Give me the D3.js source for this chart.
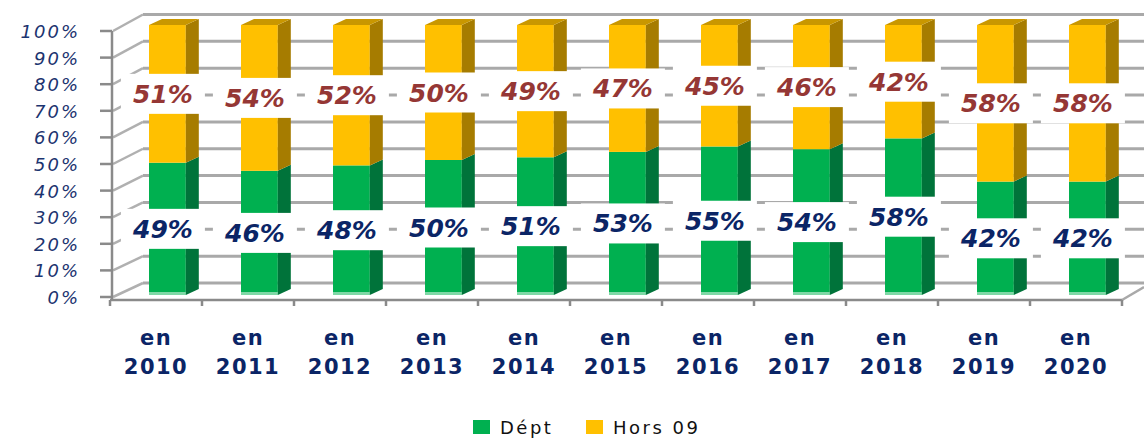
<!DOCTYPE html>
<html>
<head>
<meta charset="utf-8">
<script src="https://cdn.jsdelivr.net/npm/d3@7"></script>
<style>
  body { margin: 0; background: #fff; }
  text { font-family: "DejaVu Sans", Verdana, sans-serif; }
</style>
</head>
<body>
<svg id="chart" width="1144" height="439"></svg>
<script>
var years = ["2010","2011","2012","2013","2014","2015","2016","2017","2018","2019","2020"];
var dept = [49, 46, 48, 50, 51, 53, 55, 54, 58, 42, 42];
var hors = [51, 54, 52, 50, 49, 47, 45, 46, 42, 58, 58];
var yTicks = [0, 10, 20, 30, 40, 50, 60, 70, 80, 90, 100];

var svg = d3.select("#chart");

// front plane (axis), back wall and bar face scales
var yFront = d3.scaleLinear().domain([0, 100]).range([297, 31]);
var yBack = d3.scaleLinear().domain([0, 100]).range([283, 14.5]);
var yBar = d3.scaleLinear().domain([0, 100]).range([295, 25]);
var xScale = d3.scaleBand().domain(years).range([110, 1122]);
var bw = xScale.bandwidth();
var barDx = 13, barDy = -6;

function barLeft(c) { return xScale(c) + bw * 0.424; }
var barW = bw * 0.40;

// back wall gridlines + left wall diagonals
var grid = svg.append("g");
yTicks.forEach(function(v) {
    grid.append("line")
        .attr("x1", 143).attr("x2", 1144)
        .attr("y1", yBack(v)).attr("y2", yBack(v))
        .attr("stroke", "#a9a9a9").attr("stroke-width", 3);
    grid.append("line")
        .attr("x1", 113).attr("y1", yFront(v))
        .attr("x2", 143).attr("y2", yBack(v))
        .attr("stroke", "#b0b0b0").attr("stroke-width", 2.5);
});

// axes
svg.append("line")
    .attr("x1", 112).attr("x2", 112).attr("y1", yFront(100)).attr("y2", 300)
    .attr("stroke", "#8a8a8a").attr("stroke-width", 2.5);
svg.append("line")
    .attr("x1", 110).attr("x2", 1122).attr("y1", 300).attr("y2", 300)
    .attr("stroke", "#8a8a8a").attr("stroke-width", 2.5);
svg.append("line")
    .attr("x1", 1122).attr("y1", 300).attr("x2", 1144).attr("y2", 287)
    .attr("stroke", "#a9a9a9").attr("stroke-width", 2.5);

yTicks.forEach(function(v) {
    svg.append("line")
        .attr("x1", 100).attr("x2", 112).attr("y1", yFront(v)).attr("y2", yFront(v))
        .attr("stroke", "#8a8a8a").attr("stroke-width", 2.5);
    svg.append("text")
        .attr("x", 80).attr("y", yFront(v) + 7)
        .attr("text-anchor", "end")
        .attr("font-size", 18).attr("font-style", "italic")
        .attr("letter-spacing", 2)
        .attr("fill", "#1c3470")
        .text(v + "%");
});

years.concat(["end"]).forEach(function(c, i) {
    var x = 110 + i * bw;
    svg.append("line")
        .attr("x1", x).attr("x2", x).attr("y1", 300).attr("y2", 306)
        .attr("stroke", "#8a8a8a").attr("stroke-width", 2.5);
});

var xl = svg.append("g");
years.forEach(function(c) {
    var cx = xScale(c) + bw / 2;
    var t = xl.append("text")
        .attr("text-anchor", "middle")
        .attr("font-size", 21).attr("font-weight", "bold")
        .attr("letter-spacing", 1.5)
        .attr("fill", "#0b2566");
    t.append("tspan").attr("x", cx).attr("y", 345).text("en");
    t.append("tspan").attr("x", cx).attr("y", 373.5).text(c);
});

// bars
var colors = {
    dept: { front: "#00b050", side: "#00733a", top: "#00924a" },
    hors: { front: "#ffc000", side: "#a67c00", top: "#c99700" }
};

function drawSeg(g, c, v0, v1, col, withTop) {
    var xl0 = barLeft(c), xr = xl0 + barW;
    var yb = yBar(v0), yt = yBar(v1);
    g.append("rect")
        .attr("x", xl0).attr("y", yt)
        .attr("width", barW).attr("height", yb - yt)
        .attr("fill", col.front);
    g.append("polygon")
        .attr("points", [[xr, yb], [xr + barDx, yb + barDy], [xr + barDx, yt + barDy], [xr, yt]].join(" "))
        .attr("fill", col.side);
    if (withTop) {
        g.append("polygon")
            .attr("points", [[xl0, yt], [xl0 + barDx, yt + barDy], [xr + barDx, yt + barDy], [xr, yt]].join(" "))
            .attr("fill", col.top);
    }
}

var bars = svg.append("g");
years.forEach(function(c, i) {
    drawSeg(bars, c, 0, dept[i], colors.dept, false);
    bars.append("rect")
        .attr("x", barLeft(c)).attr("y", yBar(0) - 3)
        .attr("width", barW).attr("height", 3)
        .attr("fill", "#7fd8a6");
    drawSeg(bars, c, dept[i], dept[i] + hors[i], colors.hors, true);
});

// data labels
var labels = svg.append("g");
function addLabel(c, v, yv, color) {
    var cx = barLeft(c) + barW / 2 - 4.5;
    var cy = yBar(yv);
    labels.append("rect")
        .attr("x", cx - 42).attr("y", cy - 20)
        .attr("width", 84).attr("height", 40)
        .attr("fill", "#fff");
    labels.append("text")
        .attr("x", cx).attr("y", cy + 9)
        .attr("text-anchor", "middle")
        .attr("font-size", 25).attr("font-weight", "bold").attr("font-style", "italic")
        .attr("fill", color)
        .text(v + "%");
}
years.forEach(function(c, i) {
    addLabel(c, dept[i], dept[i] / 2, "#0b2566");
    addLabel(c, hors[i], dept[i] + hors[i] / 2, "#953735");
});

// legend
var legend = svg.append("g");
var legendItems = [
    { name: "Dépt", color: colors.dept.front, x: 473 },
    { name: "Hors 09", color: colors.hors.front, x: 586 }
];
legendItems.forEach(function(d) {
    legend.append("rect")
        .attr("x", d.x).attr("y", 420).attr("width", 17).attr("height", 14)
        .attr("fill", d.color);
    legend.append("text")
        .attr("x", d.x + 27).attr("y", 434)
        .attr("font-size", 18).attr("letter-spacing", 2.5)
        .attr("fill", "#111")
        .text(d.name);
});
</script>
</body>
</html>
